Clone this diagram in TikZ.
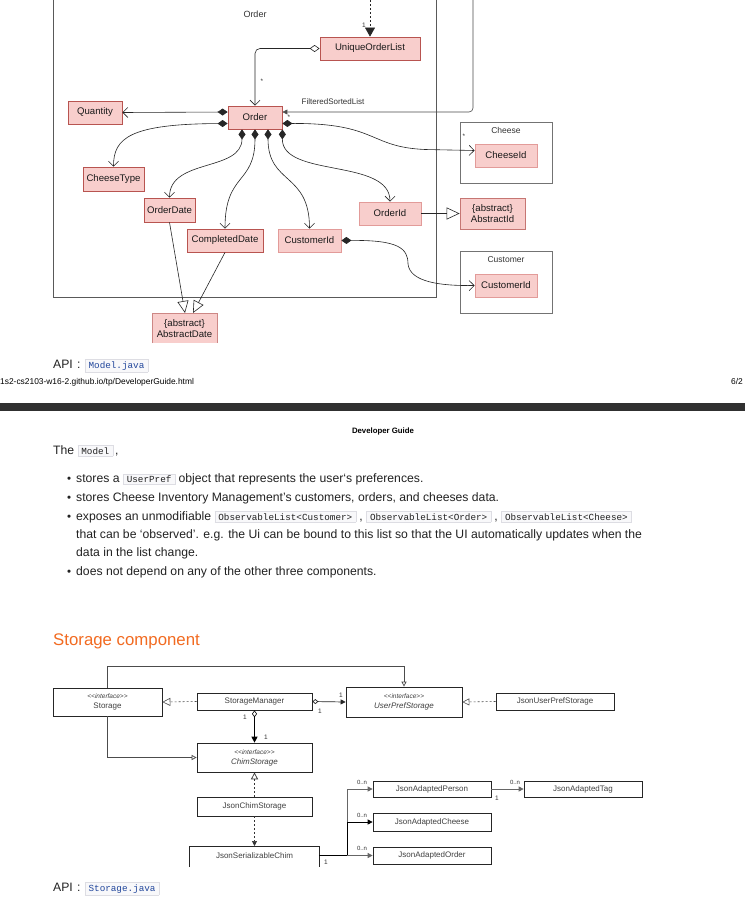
\documentclass[tikz,border=0pt]{standalone}
\usepackage{fontspec}
\setmainfont{Liberation Sans}
\setmonofont{Liberation Mono}
\usetikzlibrary{arrows.meta}
\definecolor{pfill}{HTML}{F8CECC}
\definecolor{pdark}{HTML}{B85450}
\definecolor{plight}{HTML}{E29B99}
\definecolor{orangeh}{HTML}{F26B21}
\definecolor{codebg}{HTML}{F8F8FA}
\definecolor{codebd}{HTML}{DDDDE3}
\definecolor{codeblue}{HTML}{22479C}
\definecolor{bandc}{HTML}{303030}
\definecolor{txt}{HTML}{222222}
\newcommand{\icode}[2][txt]{{\setlength{\fboxsep}{1.7pt}\setlength{\fboxrule}{0.5pt}\fcolorbox{codebd}{codebg}{\kern1.6pt\fontsize{9.3}{10}\selectfont\ttfamily\color{#1}#2\kern1.6pt}}}
\newcommand{\bodyf}{\fontsize{12.2}{14}\selectfont}
\begin{document}
\begin{tikzpicture}[x=1pt,y=-1pt,
  ent/.style={draw=pdark, fill=pfill, line width=0.8pt, text=black!90, font=\fontsize{9.6}{11}\selectfont, inner sep=0pt, align=center},
  entl/.style={ent, draw=plight},
  pkg/.style={draw=black!65, line width=0.8pt},
  conn/.style={draw=black!85, line width=0.6pt},
  sbox/.style={draw=black!85, line width=0.7pt, fill=white, text=black!75, font=\fontsize{8}{10}\selectfont, inner sep=0pt, align=center},
  lbl/.style={inner sep=0pt, text=black!80, font=\fontsize{6.5}{7}\selectfont},
  body/.style={anchor=base west, inner sep=0pt, text=txt, font=\bodyf},
  cdia/.style={{Diamond[length=10pt,width=7pt]}-{Straight Barb[length=5pt,width=10pt]}},
]
\useasboundingbox (0,0) rectangle (745,902);
\fill[white] (0,0) rectangle (745,902);

% ---------- Order package ----------
\draw[pkg] (53,0) -- (53,297) -- (436,297) -- (436,0);
\node[lbl, font=\fontsize{9}{10}\selectfont] (pkgorder) at (255,14) {Order};
\draw[pkg, draw=black!55] (460,122) rectangle (552,183);
\node[lbl, font=\fontsize{8.5}{10}\selectfont] (pkgcheese) at (506,130) {Cheese};
\draw[pkg, draw=black!55] (460,251) rectangle (552,313);
\node[lbl, font=\fontsize{8.5}{10}\selectfont] (pkgcust) at (506,260) {Customer};

\node[ent, minimum width=100pt, minimum height=23pt] (uol) at (370,48.5) {UniqueOrderList};
\node[ent, minimum width=54pt, minimum height=23pt] (order) at (255,117.5) {Order};
\node[ent, minimum width=54pt, minimum height=23pt] (qty) at (95,112.5) {Quantity};
\node[ent, minimum width=61pt, minimum height=24pt] (ctype) at (113.5,179) {CheeseType};
\node[ent, minimum width=51pt, minimum height=24pt] (odate) at (169.5,210) {OrderDate};
\node[ent, minimum width=76pt, minimum height=23pt] (cdate) at (225,240.5) {CompletedDate};
\node[entl, minimum width=63pt, minimum height=23pt] (custid) at (309.5,240.5) {CustomerId};
\node[entl, minimum width=62pt, minimum height=23pt] (orderid) at (390,213.5) {OrderId};
\node[ent, draw=pdark!80, minimum width=65pt, minimum height=31pt] (absid) at (492.5,213.5) {\{abstract\}\\AbstractId};
\node[entl, minimum width=62pt, minimum height=23pt] (cheeseid) at (506,155.5) {CheeseId};
\node[entl, minimum width=62pt, minimum height=23pt] (custid2) at (506,285.5) {CustomerId};
% AbstractDate (cut off at bottom)
\fill[pfill] (152,313) rectangle (217,343);
\draw[pdark!70, line width=0.8pt] (152,343) -- (152,313) -- (217,313) -- (217,343);
\node[lbl, text=black!90, font=\fontsize{9.6}{11}\selectfont, align=center] (absdate) at (184.5,329) {\{abstract\}\\AbstractDate};
\coordinate (absdtop) at (184.5,313);

% connectors
\coordinate (dottop) at (370,0);
\draw[conn, dash pattern=on 2pt off 2pt, -{Triangle[length=9pt,width=10pt]}] (dottop) -- (uol.north);
\node[lbl] (l1) at (364,25) {1};
\draw[conn, rounded corners=5pt, {Diamond[open,length=10pt,width=7pt]}-{Straight Barb[length=5pt,width=10pt]}] (uol.west) -| (order.north);
\node[lbl] (lst1) at (262,81) {*};
\coordinate (fsltop) at (473,0);
\draw[conn, draw=black!70, rounded corners=4pt, -{Triangle[length=5pt,width=5pt]}] (fsltop) -- (473,112) -- ([yshift=5.5pt]order.east);
\node[lbl, font=\fontsize{8}{9}\selectfont] (fsl) at (333,101.5) {FilteredSortedList};
\node[lbl] (lst2) at (289,117) {*};

\draw[conn, cdia] ([yshift=5.5pt]order.west) -- (qty.east);
\draw[conn, cdia] ([yshift=-6pt]order.west) .. controls (130,124) and (113.5,138) .. (ctype.north);
\draw[conn, cdia] ([xshift=-13pt]order.south) .. controls (242,172) and (169.5,158) .. (odate.north);
\draw[conn, cdia] (order.south) .. controls (255,185) and (225,172) .. (cdate.north);
\draw[conn, cdia] ([xshift=13pt]order.south) .. controls (268,185) and (309.5,172) .. (custid.north);
\draw[conn, cdia] (order.south east) .. controls (282,178) and (390,158) .. (orderid.north);
\draw[conn, cdia] ([yshift=-6pt]order.east) .. controls (378,123) and (368,147) .. (425,149.5) -- ([yshift=5pt]cheeseid.west);
\node[lbl] (lst3) at (464,136) {*};
\draw[conn, -{Triangle[open,length=13pt,width=12pt]}] (orderid.east) -- (absid.west);
\draw[conn, cdia] (custid.east) .. controls (398,240) and (408,248) .. (408,264) .. controls (410,282) and (440,286) .. (custid2.west);
\draw[conn, -{Triangle[open,length=12pt,width=11pt]}] (odate.south) -- ([xshift=0.5pt]absdtop);
\draw[conn, -{Triangle[open,length=12pt,width=11pt]}] (cdate.south) -- ([xshift=8.5pt]absdtop);

% ---------- page text ----------
\node[body] (api1) at (53,368) {API\hspace{0.35em}:\hspace{0.35em}\icode[codeblue]{Model.java}};
\node[anchor=base west, inner sep=0pt, text=black, font=\fontsize{8.4}{9}\selectfont] (foot) at (0,384) {1s2-cs2103-w16-2.github.io/tp/DeveloperGuide.html};
\node[anchor=base west, inner sep=0pt, text=black, font=\fontsize{8.4}{9}\selectfont] (pg) at (731,384) {6/2};
\fill[bandc] (0,403) rectangle (745,411);
\node[anchor=base, inner sep=0pt, text=black, font=\bfseries\fontsize{7.8}{9}\selectfont] (hdr) at (383,433) {Developer Guide};

\node[body] (the) at (53,454) {The \icode{Model}\,,};
\foreach \yy/\nm in {482.5/b1,501/b2,520/b3,575/b4}{
  \node[body, font=\fontsize{11.5}{12}\selectfont] (\nm) at (67,\yy) {•};
}
\node[body] (t1) at (76,482.5) {stores a \icode{UserPref} object that represents the user`s preferences.};
\node[body] (t2) at (76,501) {stores Cheese Inventory Management's customers, orders, and cheeses data.};
\node[body] (t3) at (76,520) {exposes an unmodifiable \icode{ObservableList<Customer>} , \icode{ObservableList<Order>} , \icode{ObservableList<Cheese>}};
\node[body] (t4) at (76,538) {that can be ‘observed’. e.g. the Ui can be bound to this list so that the UI automatically updates when the};
\node[body] (t5) at (76,556.5) {data in the list change.};
\node[body] (t6) at (76,575) {does not depend on any of the other three components.};

\node[anchor=base west, inner sep=0pt, text=orangeh, font=\fontsize{16.8}{18}\selectfont] (h2) at (53,645) {Storage component};

% ---------- Storage diagram ----------
\node[sbox, minimum width=109pt, minimum height=28pt] (storage) at (107.5,702) {{\fontsize{6.5}{7}\selectfont\itshape <{}<interface>{}>}\\Storage};
\node[sbox, minimum width=115pt, minimum height=17pt] (smgr) at (254.5,701.5) {StorageManager};
\node[sbox, minimum width=116pt, minimum height=30pt] (upref) at (404,702) {{\fontsize{6.5}{7}\selectfont\itshape <{}<interface>{}>}\\\itshape UserPrefStorage};
\node[sbox, minimum width=118pt, minimum height=17pt] (jupref) at (555,701.5) {JsonUserPrefStorage};
\node[sbox, minimum width=115pt, minimum height=29pt] (chim) at (254.5,757.5) {{\fontsize{6.5}{7}\selectfont\itshape <{}<interface>{}>}\\\itshape ChimStorage};
\node[sbox, minimum width=115pt, minimum height=19pt] (jchim) at (254.5,806.5) {JsonChimStorage};
\draw[draw=black!85, line width=0.7pt] (189,867) -- (189,846) -- (319,846) -- (319,867);
\node[lbl, text=black!75, font=\fontsize{8}{9}\selectfont] (jser) at (254.5,855.5) {JsonSerializableChim};
\coordinate (jsertop) at (254.5,846);
\coordinate (jsere) at (319,855.5);
\coordinate (bj) at (347,855.5);
\node[sbox, minimum width=118pt, minimum height=16pt] (jperson) at (432,789) {JsonAdaptedPerson};
\node[sbox, minimum width=118pt, minimum height=18pt] (jcheese) at (432,822) {JsonAdaptedCheese};
\node[sbox, minimum width=118pt, minimum height=17pt] (jorder) at (432,855.5) {JsonAdaptedOrder};
\node[sbox, minimum width=118pt, minimum height=16pt] (jtag) at (583,789) {JsonAdaptedTag};

\draw[draw=black!70, line width=0.7pt, -{Triangle[open,length=5pt,width=5pt]}] (storage.north) -- ++(0,-21) -| (upref.north);
\draw[draw=black!70, line width=0.7pt, -{Triangle[open,length=5pt,width=5pt]}] (storage.south) |- (chim.west);
\draw[draw=black!70, line width=0.6pt, dash pattern=on 2pt off 2pt, -{Triangle[open,length=8pt,width=8pt]}] (smgr.west) -- (storage.east);
\draw[draw=black!70, line width=0.6pt, dash pattern=on 2pt off 2pt, -{Triangle[open,length=7pt,width=7pt]}] (jupref.west) -- (upref.east);
\draw[draw=black!85, line width=0.7pt, {Diamond[open,length=6pt,width=5pt]}-{Triangle[length=5pt,width=5pt]}] (smgr.east) -- (upref.west);
\draw[draw=black, line width=1pt, {Diamond[open,length=7pt,width=5pt,line width=0.6pt]}-{Triangle[length=6pt,width=6pt]}] (smgr.south) -- (chim.north);
\node[lbl] (s1) at (341,695) {1};
\node[lbl] (s2) at (320,711) {1};
\node[lbl] (s3) at (245,717) {1};
\node[lbl] (s4) at (266,737) {1};
\draw[draw=black!80, line width=0.7pt, dash pattern=on 2pt off 2pt, -{Triangle[open,length=7pt,width=7pt]}] (jchim.north) -- (chim.south);
\draw[draw=black!80, line width=0.7pt, dash pattern=on 2pt off 2pt, -{Triangle[length=5pt,width=5pt]}] (jchim.south) -- (jsertop);
\draw[draw=black, line width=1pt] (jsere) -- (bj);
\draw[draw=black!60, line width=0.8pt, -{Triangle[length=5pt,width=5pt]}] (bj) |- (jperson.west);
\draw[draw=black, line width=0.8pt, -{Triangle[length=5pt,width=5pt]}] (bj) |- (jcheese.west);
\draw[draw=black!60, line width=0.8pt, -{Triangle[length=5pt,width=5pt]}] (bj) -- (jorder.west);
\draw[draw=black!60, line width=0.8pt, -{Triangle[length=5pt,width=5pt]}] (jperson.east) -- (jtag.west);
\node[lbl, font=\fontsize{6}{7}\selectfont] (n1) at (362,782) {0..n};
\node[lbl, font=\fontsize{6}{7}\selectfont] (n2) at (362,815) {0..n};
\node[lbl, font=\fontsize{6}{7}\selectfont] (n3) at (362,848) {0..n};
\node[lbl, font=\fontsize{6}{7}\selectfont] (n4) at (515,782) {0..n};
\node[lbl] (s5) at (326,862) {1};
\node[lbl] (s6) at (497,798) {1};

\node[body] (api2) at (53,891) {API\hspace{0.35em}:\hspace{0.35em}\icode[codeblue]{Storage.java}};
\end{tikzpicture}
\end{document}
